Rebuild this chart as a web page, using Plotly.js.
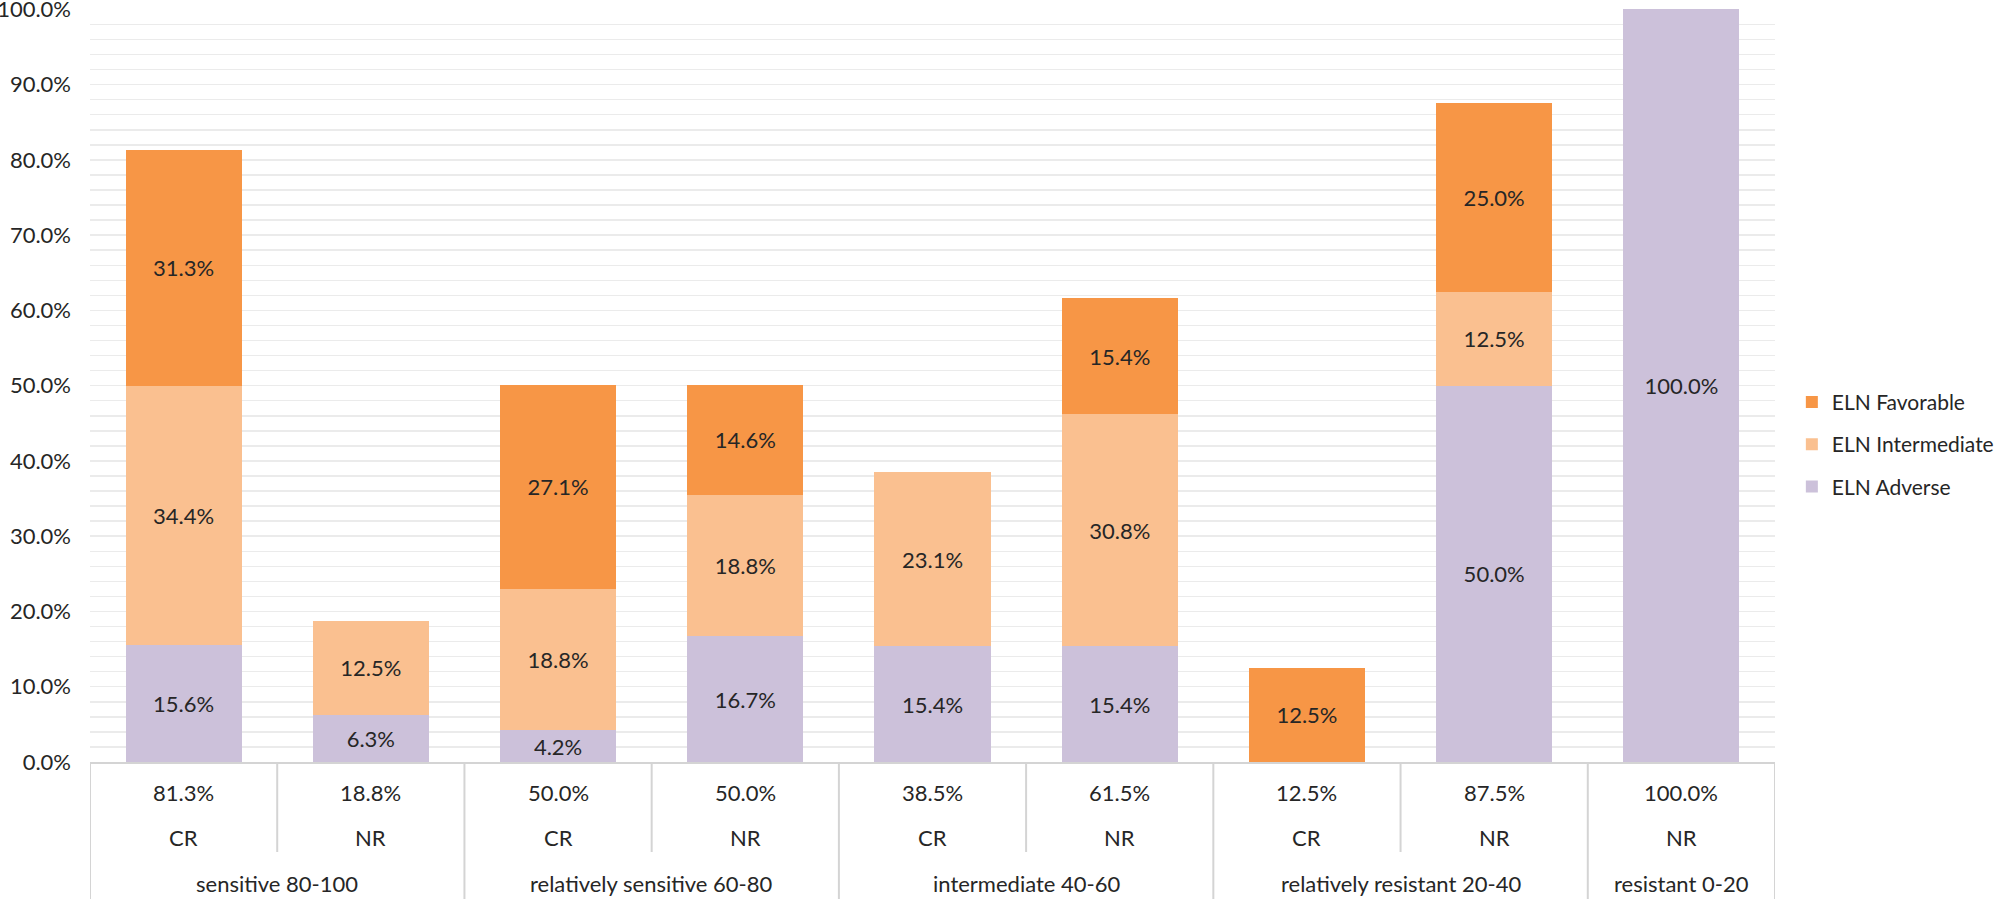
<!DOCTYPE html>
<html>
<head>
<meta charset="utf-8">
<script src="https://cdn.plot.ly/plotly-3.0.1.min.js"></script>
<style>
  html, body { margin: 0; padding: 0; background: #ffffff; }
  #plot { width: 2008px; height: 899px; }
</style>
</head>
<body>
<div id="plot"></div>
<script>
// values in percent, one entry per bar (left to right)
const adverse      = [15.6, 6.3, 4.2, 16.7, 15.4, 15.4, 0, 50.0, 100.0];
const intermediate = [34.4, 12.5, 18.8, 18.8, 23.1, 30.8, 0, 12.5, 0];
const favorable    = [31.3, 0, 27.1, 14.6, 0, 15.4, 12.5, 25.0, 0];
const totals       = [81.3, 18.8, 50.0, 50.0, 38.5, 61.5, 12.5, 87.5, 100.0];
const responses    = ["CR", "NR", "CR", "NR", "CR", "NR", "CR", "NR", "NR"];
const groupNames   = ["sensitive 80-100", "relatively sensitive 60-80", "intermediate 40-60",
                      "relatively resistant 20-40", "resistant 0-20"];
const groupSizes   = [2, 2, 2, 2, 1];

const FONT = "Lato, 'Open Sans', sans-serif";
const FS = 22;
const TEXT = "#262626";
const LINE = "#d4d4d4";
const PLOT_H = 753; // px height of plot area, used for table offsets below it

const xs = responses.map((_, i) => i);
const pct = (v) => (v ? v.toFixed(1) + "%" : "");

function barTrace(name, vals, color, rank) {
  return {
    type: "bar",
    name: name,
    legendgroup: name,
    legendrank: rank,
    x: xs,
    y: vals.map((v) => v / 100),
    text: vals.map(pct),
    textposition: "inside",
    insidetextanchor: "middle",
    textangle: 0,
    constraintext: "none",
    textfont: { family: FONT, size: FS, color: TEXT },
    marker: { color: color, line: { width: 0 } },
    hoverinfo: "skip",
  };
}

const traces = [
  barTrace("ELN Adverse", adverse, "#ccc1da", 3),
  barTrace("ELN Intermediate", intermediate, "#fac090", 2),
  barTrace("ELN Favorable", favorable, "#f79646", 1),
];

// table under the axis
const py = (px) => -px / PLOT_H;
const shapes = [];
const annotations = [];

const groupEdges = [0];
groupSizes.forEach((n) => groupEdges.push(groupEdges[groupEdges.length - 1] + n));

for (let b = 0; b <= responses.length; b++) {
  const isGroupEdge = groupEdges.includes(b);
  shapes.push({
    type: "line", xref: "x", yref: "paper",
    x0: b - 0.5, x1: b - 0.5, y0: 0, y1: py(isGroupEdge ? 140 : 90),
    line: { color: LINE, width: 2 },
  });
}

xs.forEach((i) => {
  annotations.push({
    xref: "x", yref: "paper", x: i, y: py(30), text: pct(totals[i]),
    showarrow: false, font: { family: FONT, size: FS, color: TEXT }, yanchor: "middle",
  });
  annotations.push({
    xref: "x", yref: "paper", x: i, y: py(76), text: responses[i],
    showarrow: false, font: { family: FONT, size: FS, color: TEXT }, yanchor: "middle",
  });
});

groupNames.forEach((g, k) => {
  const mid = (groupEdges[k] + groupEdges[k + 1] - 1) / 2;
  annotations.push({
    xref: "x", yref: "paper", x: mid, y: py(121), text: g,
    showarrow: false, font: { family: FONT, size: FS, color: TEXT }, yanchor: "middle",
  });
});

const layout = {
  width: 2008,
  height: 899,
  paper_bgcolor: "#ffffff",
  plot_bgcolor: "#ffffff",
  margin: { l: 90, r: 225, t: 9, b: 137 },
  barmode: "stack",
  bargap: 0.38,
  font: { family: FONT, size: FS, color: TEXT },
  showlegend: true,
  legend: {
    x: 1.010, xanchor: "left",
    y: 0.422, yanchor: "middle",
    traceorder: "grouped",
    tracegroupgap: 12,
    itemwidth: 30,
    font: { family: FONT, size: 21, color: TEXT },
    bgcolor: "rgba(0,0,0,0)",
  },
  xaxis: {
    type: "linear",
    range: [-0.5, responses.length - 0.5],
    showticklabels: false,
    showgrid: false,
    zeroline: false,
    ticks: "",
    showline: true,
    linecolor: LINE,
    linewidth: 2,
    fixedrange: true,
  },
  yaxis: {
    range: [0, 1.0005],
    tickvals: [0, 0.1, 0.2, 0.3, 0.4, 0.5, 0.6, 0.7, 0.8, 0.9, 1.0],
    tickformat: ".1%",
    tickfont: { family: FONT, size: FS, color: TEXT },
    ticklabeloverflow: "allow",
    ticks: "",
    ticklabelstandoff: 18,
    showline: false,
    zeroline: false,
    gridcolor: "#ebebeb",
    gridwidth: 1.5,
    minor: { dtick: 0.02, showgrid: true, gridcolor: "#ebebeb", gridwidth: 1.5 },
    fixedrange: true,
  },
  shapes: shapes,
  annotations: annotations,
  hovermode: false,
};

Plotly.newPlot("plot", traces, layout, { displayModeBar: false, staticPlot: true });
</script>
</body>
</html>
